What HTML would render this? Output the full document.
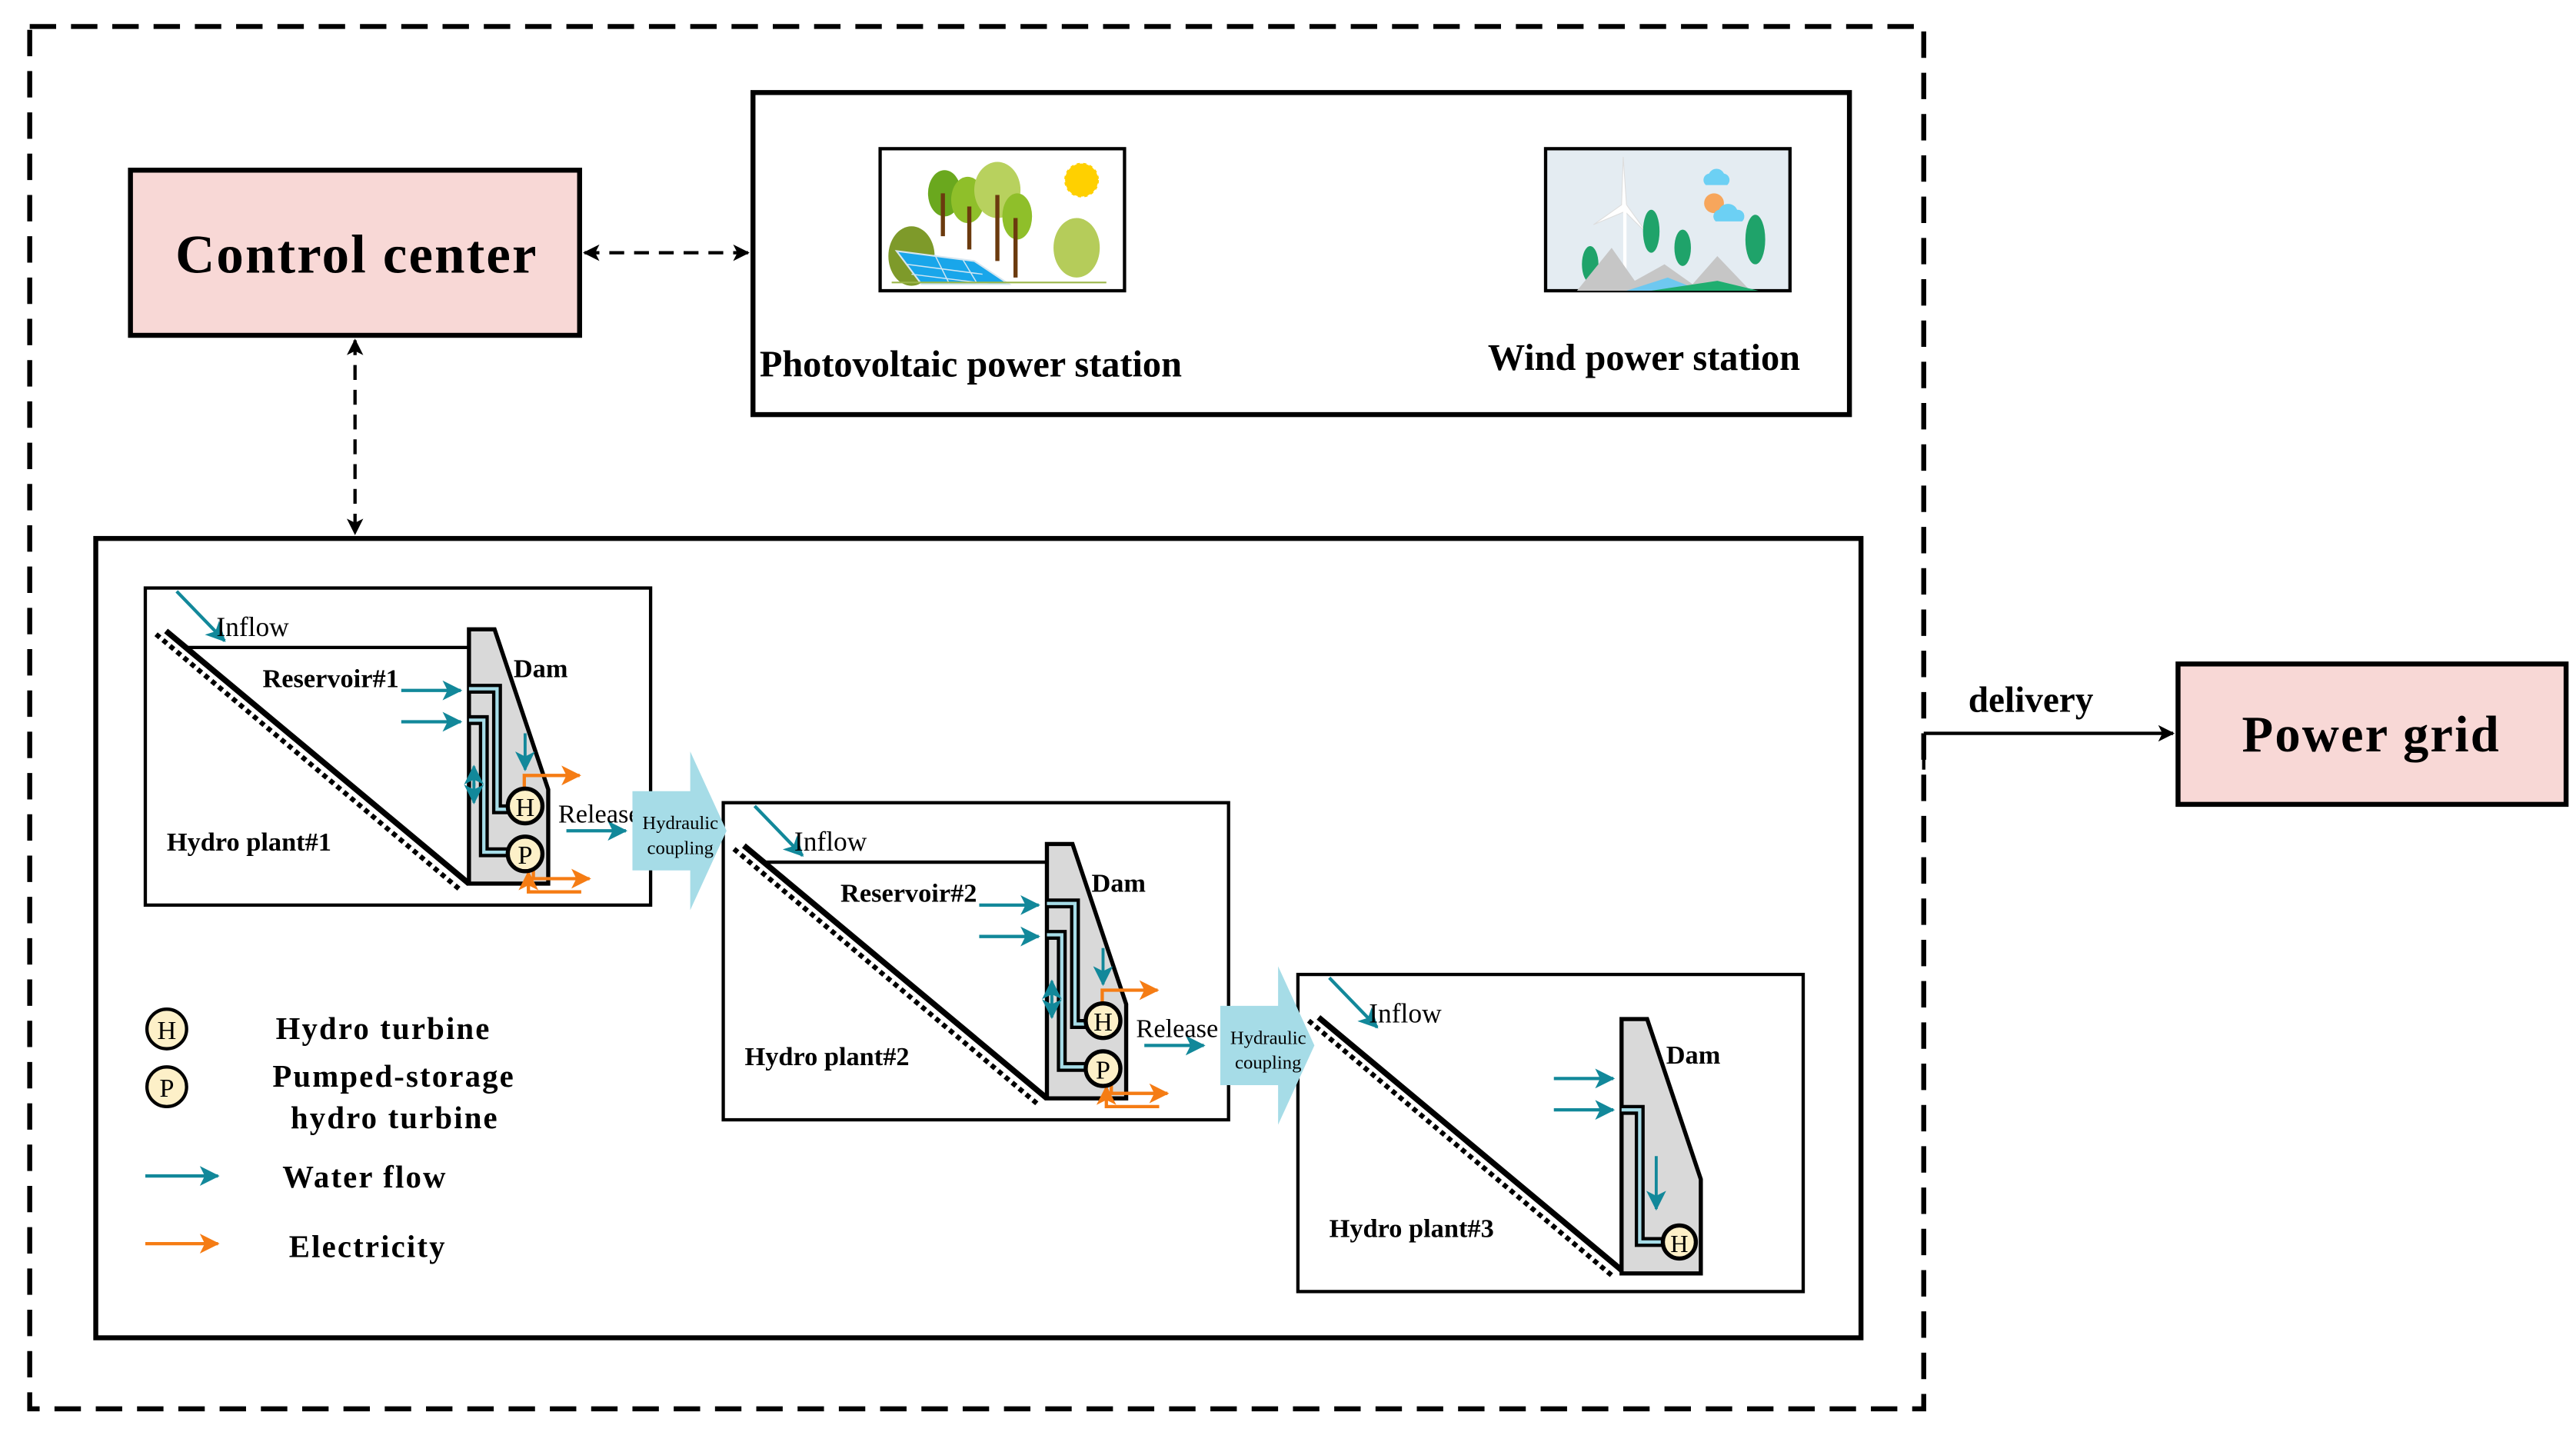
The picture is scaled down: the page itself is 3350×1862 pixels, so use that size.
<!DOCTYPE html>
<html><head><meta charset="utf-8"><style>
html,body{margin:0;padding:0;background:#fff}
svg{display:block}
text{font-family:"Liberation Serif",serif}
.b{font-weight:bold}
</style></head><body>
<svg width="3350" height="1862" viewBox="0 0 1560 867" xmlns="http://www.w3.org/2000/svg">
<defs>
<marker id="ab" markerWidth="10" markerHeight="10" refX="9" refY="5" orient="auto-start-reverse" markerUnits="userSpaceOnUse"><path d="M0,0 L10,5 L0,10 L2.5,5z" fill="#000"/></marker>
<marker id="at" markerWidth="12" markerHeight="12" refX="11" refY="6" orient="auto-start-reverse" markerUnits="userSpaceOnUse"><path d="M0,0 L12,6 L0,12 L3,6z" fill="#12889a"/></marker>
<marker id="ao" markerWidth="12" markerHeight="12" refX="11" refY="6" orient="auto-start-reverse" markerUnits="userSpaceOnUse"><path d="M0,0 L12,6 L0,12 L3,6z" fill="#f57c14"/></marker>
<g id="hc">
<path d="M383,479 L418,479 L418,455 L440,503 L418,551 L418,527 L383,527z" fill="#a6dce7"/>
<text x="412" y="502" font-size="11.5" text-anchor="middle">Hydraulic</text>
<text x="412" y="517" font-size="11.5" text-anchor="middle">coupling</text>
</g>
</defs>
<rect width="1560" height="867" fill="#fff"/>
<rect x="18" y="16" width="1147" height="837" fill="none" stroke="#000" stroke-width="3" stroke-dasharray="16 9"/>
<rect x="79" y="103" width="272" height="100" fill="#f8d8d6" stroke="#000" stroke-width="3"/>
<text x="216" y="165" font-size="33" class="b" text-anchor="middle" letter-spacing="1">Control center</text>
<line x1="354" y1="153" x2="453" y2="153" stroke="#000" stroke-width="2" stroke-dasharray="9 6" marker-start="url(#ab)" marker-end="url(#ab)"/>
<line x1="215" y1="206" x2="215" y2="323" stroke="#000" stroke-width="2" stroke-dasharray="9 6" marker-start="url(#ab)" marker-end="url(#ab)"/>
<rect x="456" y="56" width="664" height="195" fill="none" stroke="#000" stroke-width="3"/>
<!-- PV image -->
<rect x="533" y="90" width="148" height="86" fill="#fff" stroke="#000" stroke-width="2"/>
<circle cx="655" cy="109" r="10" fill="#ffd000" stroke="#ffd000" stroke-dasharray="2 2"/>
<ellipse cx="552" cy="155" rx="14" ry="18" fill="#7e9a2a"/>
<ellipse cx="652" cy="150" rx="14" ry="18" fill="#b5cc5a"/>
<ellipse cx="572" cy="117" rx="10" ry="14" fill="#6aa81e"/>
<ellipse cx="586" cy="121" rx="10" ry="14" fill="#8fbf2a"/>
<ellipse cx="604" cy="115" rx="14" ry="17" fill="#b8d15e"/>
<ellipse cx="616" cy="131" rx="9" ry="14" fill="#8fbf2a"/>
<path d="M571,143V117M587,151V125M604,158V118M615,168V132" stroke="#6b3a0e" stroke-width="2.5"/>
<path d="M543,152 L590,158 L611,172 L558,172z" fill="#19a6ea" stroke="#d6e6f0"/>
<path d="M549,160L595,166M552,166L600,172M566,154L575,172M583,157L592,172" stroke="#cfe6f3" stroke-width="0.7"/>
<line x1="540" y1="171" x2="670" y2="171" stroke="#9bb64a" stroke-width="1"/>
<!-- Wind image -->
<rect x="936" y="90" width="148" height="86" fill="#e4ecf2" stroke="#000" stroke-width="2"/>
<path d="M1035,105a5,5 0 0,1 9,0a4,4 0 0,1 2,7h-13a4,4 0 0,1 2,-7z" fill="#6cd0f4"/>
<circle cx="1038" cy="123" r="6" fill="#f7a65c"/>
<path d="M1041,127a6,6 0 0,1 11,0a4,4 0 0,1 3,7h-16a4,4 0 0,1 2,-7z" fill="#6cd0f4"/>
<path d="M983,95 L985,124 L998,142 L984,128 L965,136 L982,124z" fill="#fff" stroke="#ddd" stroke-width="0.5"/>
<line x1="984" y1="124" x2="984" y2="170" stroke="#fff" stroke-width="2"/>
<ellipse cx="963" cy="160" rx="5" ry="11" fill="#1fa36a"/>
<ellipse cx="1000" cy="140" rx="5" ry="13" fill="#1fa36a"/>
<ellipse cx="1019" cy="150" rx="5" ry="11" fill="#1fa36a"/>
<ellipse cx="1063" cy="145" rx="6" ry="15" fill="#1fa36a"/>
<path d="M955,176 L976,150 L990,170 L1008,160 L1025,172 L1040,155 L1060,176z" fill="#c6c6c6"/>
<path d="M985,176 L1010,168 L1030,176z" fill="#6ec8f0"/>
<path d="M1000,176 L1040,170 L1065,176z" fill="#1fae70"/>
<text x="460" y="228" font-size="22.5" class="b">Photovoltaic power station</text>
<text x="901" y="224" font-size="22.5" class="b">Wind power station</text>
<line x1="1165" y1="444" x2="1316" y2="444" stroke="#000" stroke-width="2" marker-end="url(#ab)"/>
<line x1="1165" y1="444" x2="1165" y2="466" stroke="#000" stroke-width="2"/>
<text x="1192" y="431" font-size="22" class="b">delivery</text>
<rect x="1319" y="402" width="235" height="85" fill="#f8d8d6" stroke="#000" stroke-width="3"/>
<text x="1436" y="455" font-size="31" class="b" text-anchor="middle" letter-spacing="1">Power grid</text>
<rect x="58" y="326" width="1069" height="484" fill="none" stroke="#000" stroke-width="3"/>

<g>
<rect x="88" y="356" width="306" height="192" fill="#fff" stroke="#000" stroke-width="2"/>
<line x1="100.5" y1="382" x2="284" y2="535" stroke="#000" stroke-width="3.5"/>
<line x1="94.5" y1="384" x2="279" y2="539" stroke="#000" stroke-width="3" stroke-dasharray="3 2.5"/>
<line x1="112" y1="392" x2="284" y2="392" stroke="#000" stroke-width="2"/>
<path d="M284,381 L299.5,381 L332,478 L332,535 L284,535z" fill="#d9d9d9" stroke="#000" stroke-width="2.5"/>
<line x1="107" y1="358" x2="136" y2="388" stroke="#12889a" stroke-width="2" marker-end="url(#at)"/>
<text x="131" y="385" font-size="16.5">Inflow</text>
<text x="159" y="416" font-size="16" class="b">Reservoir#1</text>
<text x="311" y="410" font-size="16" class="b">Dam</text>
<text x="101" y="515" font-size="16" class="b">Hydro plant#1</text>
<line x1="243" y1="418" x2="279" y2="418" stroke="#12889a" stroke-width="2" marker-end="url(#at)"/>
<line x1="243" y1="437" x2="279" y2="437" stroke="#12889a" stroke-width="2" marker-end="url(#at)"/>
<path d="M284,417 H301 V490 H310" fill="none" stroke="#000" stroke-width="6"/>
<path d="M284,417 H301 V490 H310" fill="none" stroke="#a6dce7" stroke-width="2"/>
<path d="M284,436 H293 V516 H310" fill="none" stroke="#000" stroke-width="6"/>
<path d="M284,436 H293 V516 H310" fill="none" stroke="#a6dce7" stroke-width="2"/>
<line x1="318" y1="444" x2="318" y2="466" stroke="#12889a" stroke-width="1.8" marker-end="url(#at)"/>
<line x1="287" y1="476" x2="287" y2="464" stroke="#12889a" stroke-width="1.8" marker-end="url(#at)"/>
<line x1="287" y1="474" x2="287" y2="486" stroke="#12889a" stroke-width="1.8" marker-end="url(#at)"/>
<path d="M317.5,477 V469.5 H351" fill="none" stroke="#f57c14" stroke-width="2" marker-end="url(#ao)"/>
<path d="M323,525 V532 H357" fill="none" stroke="#f57c14" stroke-width="2" marker-end="url(#ao)"/>
<path d="M352,540 H320 V528" fill="none" stroke="#f57c14" stroke-width="2" marker-end="url(#ao)"/>
<circle cx="318" cy="488" r="10.5" fill="#fdf0c8" stroke="#000" stroke-width="2.5"/>
<text x="318" y="494" font-size="16" text-anchor="middle">H</text>
<circle cx="318" cy="517" r="10.5" fill="#fdf0c8" stroke="#000" stroke-width="2.5"/>
<text x="318" y="523" font-size="16" text-anchor="middle">P</text>
<line x1="343" y1="503" x2="379" y2="503" stroke="#12889a" stroke-width="2" marker-end="url(#at)"/>
<text x="338" y="498" font-size="16">Release</text>
</g>
<g transform="translate(350,130)">
<rect x="88" y="356" width="306" height="192" fill="#fff" stroke="#000" stroke-width="2"/>
<line x1="100.5" y1="382" x2="284" y2="535" stroke="#000" stroke-width="3.5"/>
<line x1="94.5" y1="384" x2="279" y2="539" stroke="#000" stroke-width="3" stroke-dasharray="3 2.5"/>
<line x1="112" y1="392" x2="284" y2="392" stroke="#000" stroke-width="2"/>
<path d="M284,381 L299.5,381 L332,478 L332,535 L284,535z" fill="#d9d9d9" stroke="#000" stroke-width="2.5"/>
<line x1="107" y1="358" x2="136" y2="388" stroke="#12889a" stroke-width="2" marker-end="url(#at)"/>
<text x="131" y="385" font-size="16.5">Inflow</text>
<text x="159" y="416" font-size="16" class="b">Reservoir#2</text>
<text x="311" y="410" font-size="16" class="b">Dam</text>
<text x="101" y="515" font-size="16" class="b">Hydro plant#2</text>
<line x1="243" y1="418" x2="279" y2="418" stroke="#12889a" stroke-width="2" marker-end="url(#at)"/>
<line x1="243" y1="437" x2="279" y2="437" stroke="#12889a" stroke-width="2" marker-end="url(#at)"/>
<path d="M284,417 H301 V490 H310" fill="none" stroke="#000" stroke-width="6"/>
<path d="M284,417 H301 V490 H310" fill="none" stroke="#a6dce7" stroke-width="2"/>
<path d="M284,436 H293 V516 H310" fill="none" stroke="#000" stroke-width="6"/>
<path d="M284,436 H293 V516 H310" fill="none" stroke="#a6dce7" stroke-width="2"/>
<line x1="318" y1="444" x2="318" y2="466" stroke="#12889a" stroke-width="1.8" marker-end="url(#at)"/>
<line x1="287" y1="476" x2="287" y2="464" stroke="#12889a" stroke-width="1.8" marker-end="url(#at)"/>
<line x1="287" y1="474" x2="287" y2="486" stroke="#12889a" stroke-width="1.8" marker-end="url(#at)"/>
<path d="M317.5,477 V469.5 H351" fill="none" stroke="#f57c14" stroke-width="2" marker-end="url(#ao)"/>
<path d="M323,525 V532 H357" fill="none" stroke="#f57c14" stroke-width="2" marker-end="url(#ao)"/>
<path d="M352,540 H320 V528" fill="none" stroke="#f57c14" stroke-width="2" marker-end="url(#ao)"/>
<circle cx="318" cy="488" r="10.5" fill="#fdf0c8" stroke="#000" stroke-width="2.5"/>
<text x="318" y="494" font-size="16" text-anchor="middle">H</text>
<circle cx="318" cy="517" r="10.5" fill="#fdf0c8" stroke="#000" stroke-width="2.5"/>
<text x="318" y="523" font-size="16" text-anchor="middle">P</text>
<line x1="343" y1="503" x2="379" y2="503" stroke="#12889a" stroke-width="2" marker-end="url(#at)"/>
<text x="338" y="498" font-size="16">Release</text>
</g>
<g transform="translate(698,234)">
<rect x="88" y="356" width="306" height="192" fill="#fff" stroke="#000" stroke-width="2"/>
<line x1="100.5" y1="382" x2="284" y2="535" stroke="#000" stroke-width="3.5"/>
<line x1="94.5" y1="384" x2="279" y2="539" stroke="#000" stroke-width="3" stroke-dasharray="3 2.5"/>
<path d="M284,383 L299.5,383 L332,480 L332,537 L284,537z" fill="#d9d9d9" stroke="#000" stroke-width="2.5"/>
<line x1="107" y1="358" x2="136" y2="388" stroke="#12889a" stroke-width="2" marker-end="url(#at)"/>
<text x="131" y="385" font-size="16.5">Inflow</text>
<text x="311" y="410" font-size="16" class="b">Dam</text>
<text x="107" y="515" font-size="16" class="b">Hydro plant#3</text>
<line x1="243" y1="419" x2="279" y2="419" stroke="#12889a" stroke-width="2" marker-end="url(#at)"/>
<line x1="243" y1="438" x2="279" y2="438" stroke="#12889a" stroke-width="2" marker-end="url(#at)"/>
<path d="M284,438 H295 V518 H310" fill="none" stroke="#000" stroke-width="6"/>
<path d="M284,438 H295 V518 H310" fill="none" stroke="#a6dce7" stroke-width="2"/>
<line x1="305" y1="466" x2="305" y2="498" stroke="#12889a" stroke-width="1.8" marker-end="url(#at)"/>
<circle cx="319" cy="518" r="10" fill="#fdf0c8" stroke="#000" stroke-width="2.5"/>
<text x="319" y="524" font-size="15" text-anchor="middle">H</text>
</g>
<use href="#hc"/>
<use href="#hc" transform="translate(356,130)"/>
<!-- legend -->
<circle cx="101" cy="623" r="12" fill="#fdf0c8" stroke="#000" stroke-width="2"/>
<text x="101" y="629" font-size="16" text-anchor="middle">H</text>
<circle cx="101" cy="658" r="12" fill="#fdf0c8" stroke="#000" stroke-width="2"/>
<text x="101" y="664" font-size="16" text-anchor="middle">P</text>
<text x="167" y="629" font-size="19" class="b" letter-spacing="1">Hydro turbine</text>
<text x="165" y="658" font-size="19" class="b" letter-spacing="1">Pumped-storage</text>
<text x="176" y="683" font-size="19" class="b" letter-spacing="1">hydro turbine</text>
<line x1="88" y1="712" x2="132" y2="712" stroke="#12889a" stroke-width="2" marker-end="url(#at)"/>
<text x="171" y="719" font-size="19" class="b" letter-spacing="1">Water flow</text>
<line x1="88" y1="753" x2="132" y2="753" stroke="#f57c14" stroke-width="2" marker-end="url(#ao)"/>
<text x="175" y="761" font-size="19" class="b" letter-spacing="1">Electricity</text>
</svg>
</body></html>
